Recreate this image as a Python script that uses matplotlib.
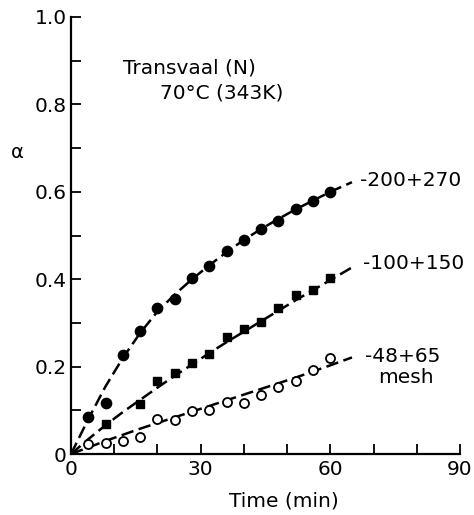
import matplotlib.pyplot as plt
import numpy as np

# -----------------------
# Data
# -----------------------
t_fine = [4, 8, 12, 16, 20, 24, 28, 32, 36, 40, 44, 48, 52, 56, 60]
a_fine = [0.084, 0.117, 0.227, 0.282, 0.333, 0.355, 0.402, 0.430,
          0.465, 0.489, 0.514, 0.534, 0.561, 0.580, 0.599]

t_mid = [8, 16, 20, 24, 28, 32, 36, 40, 44, 48, 52, 56, 60]
a_mid = [0.069, 0.114, 0.166, 0.186, 0.208, 0.230, 0.268, 0.285,
         0.303, 0.335, 0.364, 0.375, 0.403]

t_coarse = [4, 8, 12, 16, 20, 24, 28, 32, 36, 40, 44, 48, 52, 56, 60]
a_coarse = [0.023, 0.026, 0.030, 0.038, 0.079, 0.077, 0.098, 0.101,
            0.119, 0.117, 0.135, 0.153, 0.167, 0.192, 0.220]

# fitted curves, read at these times
t_curve = [0, 4, 8, 12, 16, 20, 24, 28, 32, 36, 40, 44, 48, 52, 56, 60, 65]
fit_fine = [0, 0.080, 0.155, 0.220, 0.277, 0.326, 0.365, 0.400, 0.432,
            0.462, 0.490, 0.515, 0.538, 0.560, 0.580, 0.600, 0.622]
fit_mid = [0, 0.034, 0.066, 0.096, 0.124, 0.152, 0.179, 0.205, 0.231,
           0.256, 0.280, 0.304, 0.328, 0.352, 0.375, 0.398, 0.427]
fit_coarse = [0, 0.015, 0.030, 0.044, 0.058, 0.071, 0.084, 0.097, 0.110,
              0.123, 0.136, 0.149, 0.162, 0.175, 0.189, 0.203, 0.221]

labels = ["-200+270", "-100+150", "-48+65", "mesh"]

# -----------------------
# Plot
# -----------------------
fig = plt.figure(figsize=(4.74, 5.15), dpi=100)
ax = fig.add_axes([0.1498, 0.1184, 0.8207, 0.8486])

dash = (5, 2.2)
for fit in (fit_fine, fit_mid, fit_coarse):
    ax.plot(t_curve, fit, color='black', lw=1.8, dashes=dash, zorder=2)

ax.plot(t_fine, a_fine, 'o', color='black', ms=7.4, zorder=3)
ax.plot(t_mid, a_mid, 's', color='black', ms=6.0, zorder=3)
ax.plot(t_coarse, a_coarse, 'o', mfc='white', mec='black', mew=1.3,
        ms=6.5, zorder=3)

fs = 14.5
ax.text(66.9, 0.625, labels[0], fontsize=fs, va='center')
ax.text(67.6, 0.435, labels[1], fontsize=fs, va='center')
ax.text(68.0, 0.224, labels[2], fontsize=fs, va='center')
ax.text(71.0, 0.174, labels[3], fontsize=fs, va='center')

ax.text(12.0, 0.883, "Transvaal (N)", fontsize=fs, va='center')
ax.text(20.6, 0.826, "70°C (343K)", fontsize=fs, va='center')

ax.set_xlim(0, 90)
ax.set_ylim(0, 1.0)
ax.set_xticks([0, 30, 60, 90])
ax.set_xticks(np.arange(0, 91, 10), minor=True)
ax.set_yticks([0, 0.2, 0.4, 0.6, 0.8, 1.0])
ax.set_yticklabels(["0", "0.2", "0.4", "0.6", "0.8", "1.0"])
ax.set_yticks(np.arange(0, 1.01, 0.1), minor=True)
ax.tick_params(which='both', direction='in', length=7, width=1.3,
               labelsize=14.5)
ax.tick_params(axis='y', pad=3)
ax.tick_params(axis='x', pad=4)

for side in ('top', 'right'):
    ax.spines[side].set_visible(False)
for side in ('left', 'bottom'):
    ax.spines[side].set_linewidth(1.6)

ax.set_xlabel("Time (min)", fontsize=14.5)
ax.xaxis.set_label_coords(0.546, -0.085)
ax.set_ylabel("α", fontsize=14, rotation=0, va='center', ha='center')
ax.yaxis.set_label_coords(-0.139, 0.691)

fig.savefig("out.png", dpi=100)
